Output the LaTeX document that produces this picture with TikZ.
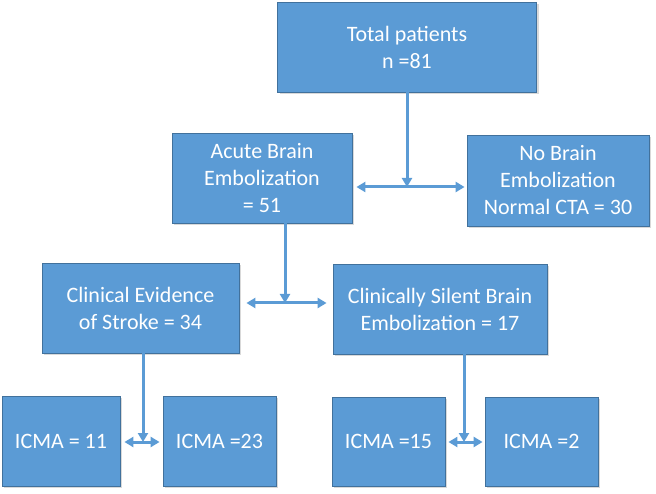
\documentclass[tikz,border=0pt]{standalone}
\usepackage{fontspec}
\setmainfont{Carlito}
\usepackage{tikz}
\usetikzlibrary{arrows.meta}
\usetikzlibrary{calc}
\usetikzlibrary{shadows}
\definecolor{boxblue}{HTML}{5B9BD5}
\definecolor{boxedge}{HTML}{41719C}
\tikzset{
  box/.style={draw=boxedge, line width=0.8pt, fill=boxblue, text=white,
    align=center, inner sep=0pt, font=\fontsize{22}{27}\selectfont,
    drop shadow={opacity=0.3, shadow xshift=2pt, shadow yshift=-2pt}},
  link/.style={color=boxblue, line width=3pt, >={Triangle[length=9pt,width=10pt]}},
}

\begin{document}
\begin{tikzpicture}[x=1pt,y=-1pt]
    \useasboundingbox (0,0) rectangle (656,494);
    \node[box, minimum width=259pt, minimum height=90pt] (T) at (407,47) {Total patients\\n =81};
    \node[box, minimum width=180pt, minimum height=90pt] (A) at (262,178) {Acute Brain\\Embolization\\= 51};
    \node[box, minimum width=182pt, minimum height=91pt] (N) at (558,180.5) {No Brain\\Embolization\\Normal CTA = 30};
    \node[box, minimum width=197pt, minimum height=90pt] (C) at (140.5,308) {Clinical Evidence\\of Stroke = 34};
    \node[box, minimum width=214pt, minimum height=90pt] (S) at (440,309) {Clinically Silent Brain\\Embolization = 17};
    \node[box, minimum width=118pt, minimum height=90pt] (M1) at (61,441) {ICMA = 11};
    \node[box, minimum width=113pt, minimum height=90pt] (M2) at (219.5,441) {ICMA =23};
    \node[box, minimum width=113pt, minimum height=89pt] (M3) at (388.5,441.5) {ICMA =15};
    \node[box, minimum width=113pt, minimum height=89pt] (M4) at (541.5,441.5) {ICMA =2};
    \coordinate (J1) at (407,187);
    \coordinate (J2) at (285,303);
    \coordinate (J3) at (143,442);
    \coordinate (J4) at (464,442);
    \path [link, ->] (T.south -| J1) edge (J1);
    \path [link, <->, shorten <=4pt, shorten >=2pt] (A.east |- J1) edge (N.west |- J1);
    \path [link, ->] (A.south -| J2) edge (J2);
    \path [link, <->, shorten <=7pt, shorten >=6pt] (C.east |- J2) edge (S.west |- J2);
    \path [link, ->] (C.south -| J3) edge (J3);
    \path [link, <->, shorten <=4pt, shorten >=3pt] (M1.east |- J3) edge (M2.west |- J3);
    \path [link, ->] (S.south -| J4) edge (J4);
    \path [link, <->, shorten <=3pt, shorten >=2pt] (M3.east |- J4) edge (M4.west |- J4);
  \end{tikzpicture}
\end{document}
